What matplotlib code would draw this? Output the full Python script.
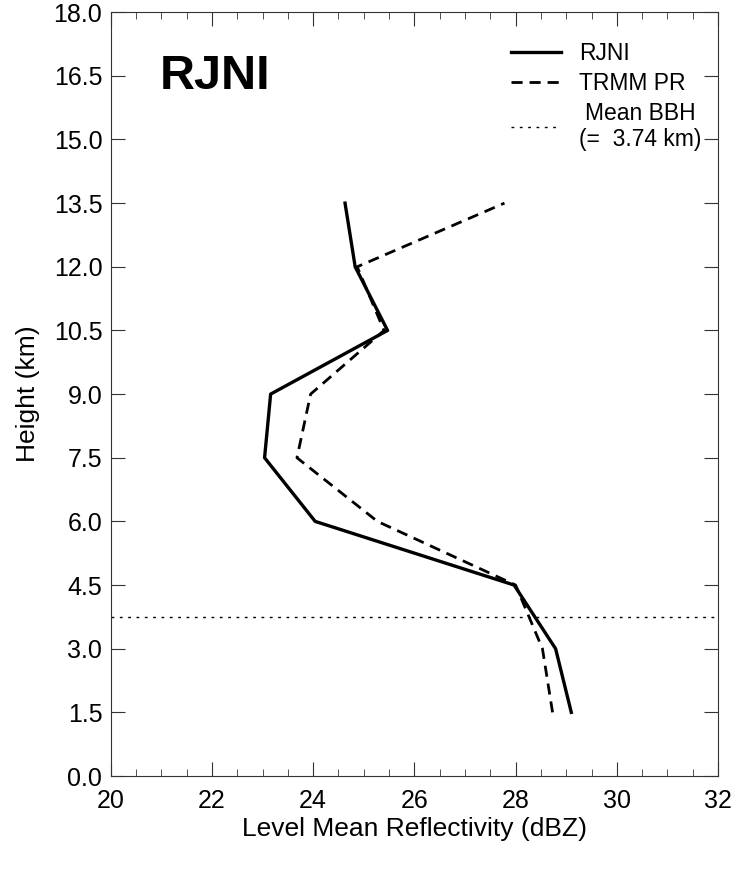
import numpy as np
import matplotlib.pyplot as plt
from matplotlib.ticker import MultipleLocator

plt.rcParams['font.family'] = ['Liberation Sans', 'DejaVu Sans']

height = [1.5, 3.0, 4.5, 6.0, 7.5, 9.0, 10.5, 12.0, 13.5]
rjni = [29.10, 28.79, 27.97, 24.04, 23.04, 23.16, 25.47, 24.83, 24.63]
trmm = [28.73, 28.53, 28.0, 25.27, 23.68, 23.95, 25.40, 24.87, 27.78]
bbh = 3.74

fig = plt.figure(figsize=(7.38, 8.69), dpi=100)
ax = fig.add_axes([0.150, 0.107, 0.823, 0.879])

ax.plot(rjni, height, color="black", lw=2.4, label="RJNI")
ax.plot(trmm, height, color="black", lw=2.0, ls=(0, (4, 2.5)), label="TRMM PR")
ax.axhline(bbh, color="black", lw=1.0, ls=(0, (2, 4)), label="Mean BBH\n(=  3.74 km)")

ax.set_xlim(20, 32)
ax.set_ylim(0, 18)
ax.xaxis.set_major_locator(MultipleLocator(2))
ax.xaxis.set_minor_locator(MultipleLocator(0.5))
ax.yaxis.set_major_locator(MultipleLocator(1.5))
ax.yaxis.set_major_formatter(plt.FormatStrFormatter("%.1f"))
ax.tick_params(which="both", direction="in", top=True, right=True, labelsize=18, color="#333333")
ax.tick_params(axis="x", pad=9)
ax.tick_params(axis="y", pad=6)
ax.tick_params(which="major", length=10)
ax.tick_params(which="minor", length=5)
for s in ax.spines.values():
    s.set_color("#333333")

ax.set_xlabel("Level Mean Reflectivity (dBZ)", fontsize=19, labelpad=3)
ax.set_ylabel("Height (km)", fontsize=19, labelpad=10)

ax.text(0.08, 0.945, "RJNI", transform=ax.transAxes, fontsize=35, fontweight="bold", va="top")

leg = ax.legend(loc="upper right", bbox_to_anchor=(1.007, 0.988), frameon=False,
                fontsize=16.5, handlelength=2.2, labelspacing=0.3, borderaxespad=0.3,
                handletextpad=0.8, borderpad=0.6)
for t in leg.get_texts():
    t.set_multialignment("center")

fig.savefig("out.png", dpi=100)
